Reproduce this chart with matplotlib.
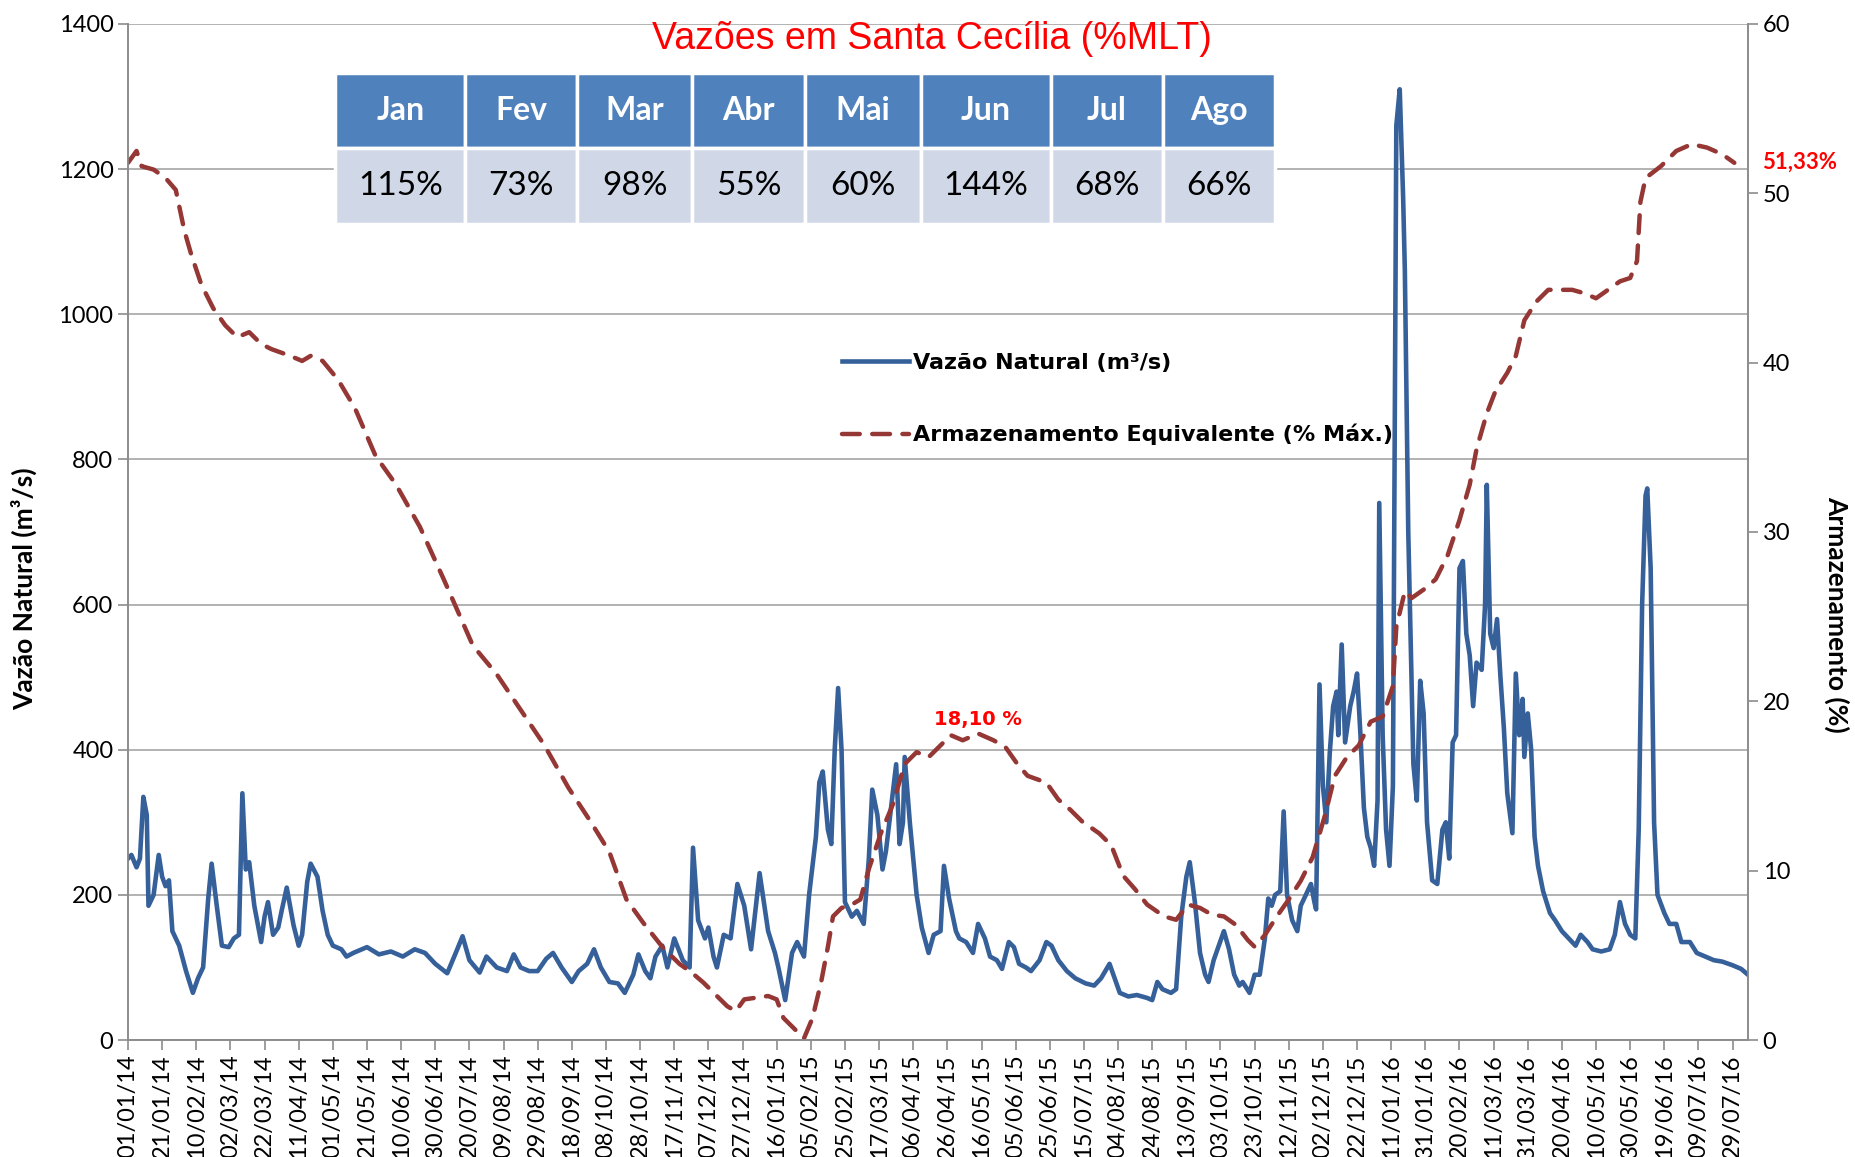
import matplotlib
matplotlib.use("Agg")
import matplotlib.pyplot as plt
import matplotlib.dates as mdates
import pandas as pd

plt.rcParams['font.family'] = ['Lato', 'DejaVu Sans']

inicio = pd.Timestamp('2014-01-01')

# vazao natural (m3/s), dias a partir de 01/01/14
dias_vazao = [0, 2, 5, 7, 9, 11, 12, 15, 18, 20, 22, 24, 26, 30, 34, 38, 41, 44, 47, 49,
              52, 55, 59, 62, 65, 67, 69, 71, 74, 78, 80, 82, 85, 88, 90, 93, 97, 100, 102, 105,
              107, 111, 114, 117, 120, 125, 128, 132, 140, 147, 154, 161, 168, 174, 180, 187, 192, 196, 200, 206,
              210, 216, 222, 226, 230, 235, 240, 245, 249, 254, 260, 264, 269, 273, 277, 282, 287, 291, 296, 299,
              303, 306, 309, 313, 316, 320, 325, 329, 331, 334, 338, 340, 343, 345, 349, 353, 357, 361, 365, 370,
              375, 379, 381, 385, 389, 392, 396, 399, 403, 405, 407, 410, 412, 414, 416, 418, 420, 424, 427, 431,
              434, 436, 439, 442, 444, 448, 450, 452, 454, 455, 458, 462, 465, 469, 472, 476, 478, 481, 485, 487,
              491, 495, 498, 502, 505, 509, 512, 516, 519, 522, 526, 529, 534, 538, 541, 545, 550, 555, 561, 566,
              570, 575, 578, 581, 586, 591, 597, 600, 603, 606, 611, 614, 617, 620, 622, 625, 628, 631, 633, 636,
              639, 642, 645, 648, 651, 653, 657, 660, 663, 666, 668, 670, 672, 675, 677, 679, 682, 685, 687, 690,
              693, 695, 696, 698, 700, 702, 704, 706, 708, 709, 711, 713, 716, 718, 720, 722, 724, 726, 728, 730,
              732, 733, 735, 737, 739, 741, 743, 745, 747, 748, 750, 753, 755, 757, 759, 761, 764, 767, 770, 772,
              774, 776, 778, 780, 782, 784, 786, 788, 790, 793, 795, 796, 798, 800, 802, 804, 806, 808, 811, 813,
              815, 817, 818, 820, 822, 824, 826, 829, 833, 836, 840, 844, 848, 851, 855, 858, 863, 868, 871, 874,
              877, 880, 883, 885, 887, 889, 890, 892, 894, 896, 900, 903, 907, 910, 915, 919, 924, 929, 934, 940,
              945, 949]
vazao = [250, 255, 238, 250, 335, 310, 185, 200, 255, 225, 212, 220, 150, 130, 95, 65, 85, 100, 195, 243,
         185, 130, 128, 140, 145, 340, 235, 245, 185, 135, 170, 190, 145, 155, 178, 210, 158, 130, 145, 218,
         243, 225, 178, 145, 130, 125, 115, 120, 128, 118, 122, 115, 125, 120, 105, 92, 120, 143, 110, 93,
         115, 100, 95, 118, 100, 95, 95, 112, 120, 100, 80, 95, 105, 125, 100, 80, 78, 65, 90, 118,
         95, 85, 115, 130, 100, 140, 110, 100, 265, 165, 140, 155, 115, 100, 145, 140, 215, 185, 125, 230,
         150, 120, 100, 55, 120, 135, 115, 200, 280, 355, 370, 290, 270, 400, 485, 400, 190, 170, 178, 160,
         250, 345, 310, 235, 260, 340, 380, 270, 300, 390, 300, 200, 155, 120, 145, 150, 240, 195, 150, 140,
         135, 120, 160, 140, 115, 110, 98, 135, 128, 105, 100, 95, 110, 135, 130, 110, 95, 85, 78, 75,
         85, 105, 85, 65, 60, 62, 58, 55, 80, 70, 65, 70, 170, 225, 245, 190, 120, 90, 80, 110,
         130, 150, 125, 90, 75, 80, 65, 90, 90, 140, 195, 185, 200, 205, 315, 200, 165, 150, 185, 200,
         215, 190, 180, 490, 350, 300, 395, 460, 480, 420, 545, 410, 460, 480, 505, 420, 320, 280, 265, 240,
         330, 740, 420, 290, 240, 350, 1260, 1310, 1160, 1060, 700, 380, 330, 495, 450, 300, 220, 215, 290, 300,
         250, 410, 420, 650, 660, 560, 530, 460, 520, 510, 600, 765, 560, 540, 580, 500, 430, 340, 285, 505,
         420, 470, 390, 450, 400, 280, 240, 205, 175, 165, 150, 140, 130, 145, 135, 125, 122, 125, 145, 190,
         160, 145, 140, 290, 600, 750, 760, 650, 300, 200, 175, 160, 160, 135, 135, 120, 115, 110, 108, 103,
         98, 90]

# armazenamento equivalente (% max)
dias_arm = [0, 5, 8, 15, 22, 28, 33, 37, 43, 50, 57, 64, 71, 78, 84, 95, 102, 107, 114, 123,
            133, 145, 157, 171, 185, 202, 216, 230, 244, 258, 271, 282, 292, 302, 313, 323, 330, 337, 344, 351,
            356, 361, 368, 375, 380, 384, 389, 396, 401, 406, 410, 413, 418, 424, 429, 434, 441, 448, 455, 462,
            469, 476, 482, 489, 498, 507, 514, 521, 527, 538, 545, 552, 559, 569, 576, 583, 590, 597, 607, 614,
            621, 628, 635, 642, 649, 656, 660, 666, 673, 680, 687, 694, 701, 707, 714, 721, 728, 735, 741, 743,
            748, 752, 759, 766, 773, 780, 786, 790, 796, 801, 808, 813, 818, 825, 832, 839, 846, 853, 860, 867,
            874, 880, 884, 886, 889, 898, 907, 916, 925, 934, 941]
armazenamento = [51.8, 52.5, 51.6, 51.4, 50.9, 50.2, 47.8, 46.4, 44.6, 43.2, 42.2, 41.5, 41.8, 41.1, 40.8, 40.4, 40.1, 40.4, 40.1, 39.0,
                 37.3, 34.5, 32.8, 30.3, 27.2, 23.3, 21.6, 19.5, 17.4, 14.9, 12.9, 11.1, 8.3, 6.9, 5.5, 4.5, 4.0, 3.4, 2.7, 2.0,
                 1.7, 2.4, 2.5, 2.6, 2.4, 1.3, 0.8, 0.1, 1.3, 3.4, 5.5, 7.3, 7.8, 8.0, 8.3, 10.1, 12.2, 13.9, 16.3, 17.0,
                 16.7, 17.4, 18.0, 17.7, 18.1, 17.7, 17.3, 16.3, 15.6, 15.2, 14.2, 13.6, 12.9, 12.2, 11.5, 9.7, 8.9, 8.0, 7.3, 7.1,
                 8.0, 7.8, 7.4, 7.3, 6.8, 5.9, 5.5, 6.2, 7.3, 8.3, 9.4, 10.8, 13.2, 15.6, 16.7, 17.4, 18.8, 19.1, 20.9, 24.4,
                 26.5, 26.1, 26.6, 27.2, 28.6, 30.7, 32.8, 34.9, 37.0, 38.3, 39.4, 40.4, 42.5, 43.6, 44.3, 44.3, 44.3, 44.1, 43.8, 44.3,
                 44.8, 45.0, 46.0, 49.5, 50.9, 51.6, 52.5, 52.9, 52.7, 52.3, 51.8]

meses = ['Jan', 'Fev', 'Mar', 'Abr', 'Mai', 'Jun', 'Jul', 'Ago']
mlt = ['115%', '73%', '98%', '55%', '60%', '144%', '68%', '66%']
larguras = [108, 93, 95, 94, 96, 108, 93, 93]

datas_vazao = [inicio + pd.Timedelta(days=d) for d in dias_vazao]
datas_arm = [inicio + pd.Timedelta(days=d) for d in dias_arm]

fig = plt.figure(figsize=(18.55, 11.57), dpi=100)
ax = fig.add_axes([0.069, 0.1011, 0.8733, 0.8782])
ax2 = ax.twinx()

cinza = '#8C8C8C'
l1, = ax.plot(datas_vazao, vazao, color='#36609A', lw=3.3, label='Vazão Natural (m³/s)', zorder=3)
l2, = ax2.plot(datas_arm, armazenamento, color='#953735', lw=3.2, dashes=(4, 2.8),
               dash_capstyle='round', label='Armazenamento Equivalente (% Máx.)')

ax.set_ylim(0, 1400)
ax.set_yticks(range(0, 1401, 200))
ax2.set_ylim(0, 60)
ax2.set_yticks(range(0, 61, 10))
ax.set_xlim(inicio, inicio + pd.Timedelta(days=949))
ax.set_xticks(pd.date_range(inicio, periods=48, freq='20D'))
ax.xaxis.set_major_formatter(mdates.DateFormatter('%d/%m/%y'))
ax.grid(axis='y', color='#A6A6A6', lw=1.2)
ax.set_axisbelow(True)

for a in (ax, ax2):
    for s in a.spines.values():
        s.set_color(cinza)
        s.set_linewidth(1.2)
    a.spines['top'].set_visible(False)
    a.tick_params(colors=cinza, labelcolor='black', labelsize=17, length=7, width=1.2)
ax.tick_params(axis='x', rotation=90, labelsize=17)

ax.set_ylabel('Vazão Natural (m³/s)', fontsize=19, fontweight='bold', va='center')
ax.yaxis.set_label_coords(-0.064, 0.444)
ax2.set_ylabel('Armazenamento (%)', fontsize=19, fontweight='bold', rotation=270, va='center')
ax2.yaxis.set_label_coords(1.055, 0.419)

ax.text(0.496, 0.985, 'Vazões em Santa Cecília (%MLT)', transform=ax.transAxes, ha='center', va='center',
        color='red', fontsize=27, family='Liberation Sans')

ax2.text(inicio + pd.Timedelta(days=498), 18.95, '18,10 %', ha='center', va='center', color='red',
         fontsize=14, fontweight='bold', family='DejaVu Sans')
ax2.text(1.032, 0.864, '51,33%', transform=ax2.transAxes, ha='center', va='center', color='red',
         fontsize=16, fontweight='bold', clip_on=False)

tab = ax2.table(cellText=[mlt], colLabels=meses, colWidths=[w / sum(larguras) for w in larguras],
                cellLoc='center', bbox=[0.128, 0.803, 0.580, 0.149])
tab.auto_set_font_size(False)
for (r, c), cel in tab.get_celld().items():
    cel.set_edgecolor('white')
    cel.set_linewidth(2.5)
    if r == 0:
        cel.set_facecolor('#4F81BD')
        cel.set_text_props(color='white', fontweight='bold', fontsize=23)
    else:
        cel.set_facecolor('#D0D8E8')
        cel.set_text_props(color='black', fontsize=24)

fig.legend(handles=[l1, l2], loc='upper left', bbox_to_anchor=(0.454, 0.695), frameon=False,
           prop={'family': 'DejaVu Sans', 'weight': 'bold', 'size': 16}, handlelength=3.0,
           handletextpad=0.2, labelspacing=2.3, borderpad=0, borderaxespad=0)

fig.savefig('out.png', dpi=100)
